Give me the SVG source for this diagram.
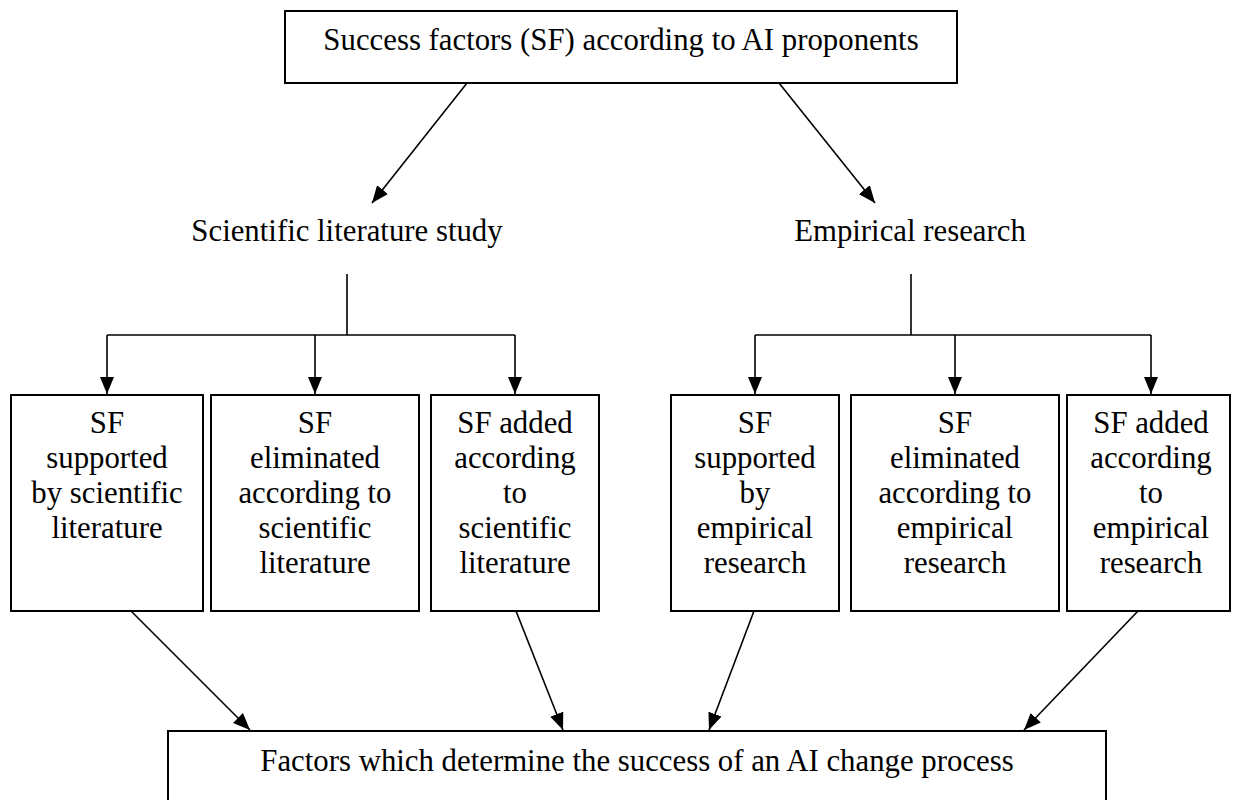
<svg xmlns="http://www.w3.org/2000/svg" width="1235" height="800" viewBox="0 0 1235 800" font-family="'Liberation Serif', 'Times New Roman', serif">
<style>
text{font-family:"Liberation Serif","Times New Roman",serif;font-size:30.8px;fill:#000;text-anchor:middle}
.box{fill:#fff;stroke:#000;stroke-width:2}
.ln{fill:none;stroke:#000;stroke-width:1.6}
</style>
<defs>
<marker id="ah" markerUnits="userSpaceOnUse" markerWidth="17" markerHeight="15" viewBox="0 0 17 14" refX="17" refY="7" orient="auto">
<path d="M0,0 L17,7 L0,14 Z" fill="#000"/>
</marker>
</defs>
<rect width="1235" height="800" fill="#fff"/>
<g id="top"><rect class="box" x="285" y="11" width="672" height="72"/><text x="621" y="50">Success factors (SF) according to AI proponents</text></g>
<g id="lit"><text x="347" y="241">Scientific literature study</text></g>
<g id="emp"><text x="910" y="241">Empirical research</text></g>
<g id="b1"><rect class="box" x="11" y="395" width="192" height="216"/><text x="107" y="433">SF</text><text x="107" y="468">supported</text><text x="107" y="503">by scientific</text><text x="107" y="538">literature</text></g>
<g id="b2"><rect class="box" x="211" y="395" width="208" height="216"/><text x="315" y="433">SF</text><text x="315" y="468">eliminated</text><text x="315" y="503">according to</text><text x="315" y="538">scientific</text><text x="315" y="573">literature</text></g>
<g id="b3"><rect class="box" x="431" y="395" width="168" height="216"/><text x="515" y="433">SF added</text><text x="515" y="468">according</text><text x="515" y="503">to</text><text x="515" y="538">scientific</text><text x="515" y="573">literature</text></g>
<g id="b4"><rect class="box" x="671" y="395" width="168" height="216"/><text x="755" y="433">SF</text><text x="755" y="468">supported</text><text x="755" y="503">by</text><text x="755" y="538">empirical</text><text x="755" y="573">research</text></g>
<g id="b5"><rect class="box" x="851" y="395" width="208" height="216"/><text x="955" y="433">SF</text><text x="955" y="468">eliminated</text><text x="955" y="503">according to</text><text x="955" y="538">empirical</text><text x="955" y="573">research</text></g>
<g id="b6"><rect class="box" x="1067" y="395" width="163" height="216"/><text x="1151" y="433">SF added</text><text x="1151" y="468">according</text><text x="1151" y="503">to</text><text x="1151" y="538">empirical</text><text x="1151" y="573">research</text></g>
<g id="bottom"><rect class="box" x="168" y="731" width="938" height="80"/><text x="637" y="771">Factors which determine the success of an AI change process</text></g>
<g id="connectors">
<line class="ln" x1="467" y1="83" x2="372" y2="203" marker-end="url(#ah)"/>
<line class="ln" x1="779" y1="83" x2="875" y2="203" marker-end="url(#ah)"/>
<path class="ln" d="M347,274 V335 M107,335 H515"/>
<line class="ln" x1="107" y1="335" x2="107" y2="394" marker-end="url(#ah)"/>
<line class="ln" x1="315" y1="335" x2="315" y2="394" marker-end="url(#ah)"/>
<line class="ln" x1="515" y1="335" x2="515" y2="394" marker-end="url(#ah)"/>
<path class="ln" d="M911,274 V335 M755,335 H1151"/>
<line class="ln" x1="755" y1="335" x2="755" y2="394" marker-end="url(#ah)"/>
<line class="ln" x1="955" y1="335" x2="955" y2="394" marker-end="url(#ah)"/>
<line class="ln" x1="1151" y1="335" x2="1151" y2="394" marker-end="url(#ah)"/>
<line class="ln" x1="131" y1="611" x2="250" y2="730" marker-end="url(#ah)"/>
<line class="ln" x1="516" y1="611" x2="563" y2="730" marker-end="url(#ah)"/>
<line class="ln" x1="754" y1="611" x2="709" y2="730" marker-end="url(#ah)"/>
<line class="ln" x1="1138" y1="611" x2="1024" y2="730" marker-end="url(#ah)"/>
</g>
</svg>
